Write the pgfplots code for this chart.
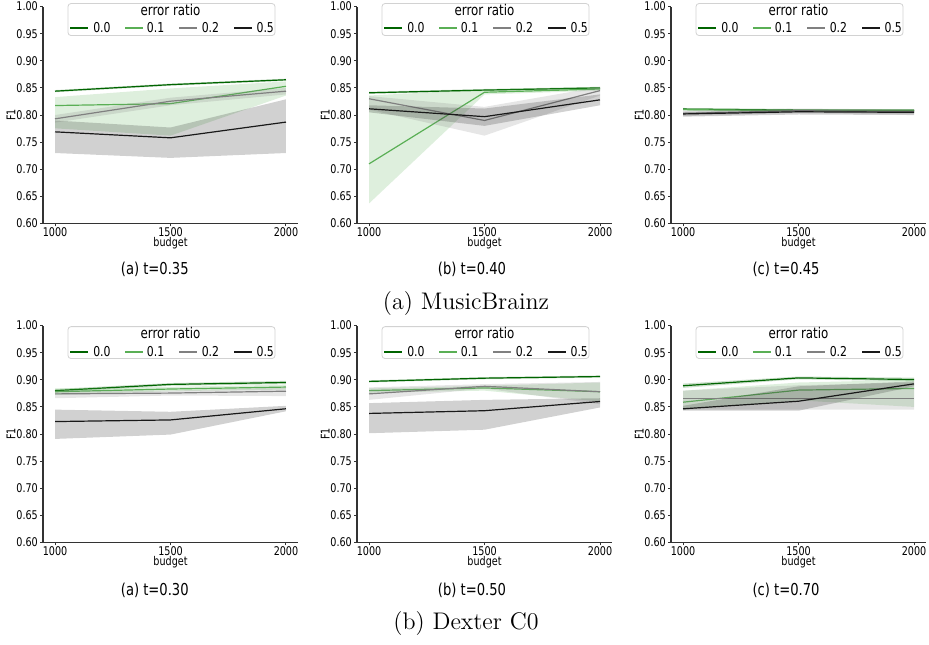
\documentclass[border=0pt]{standalone}
\usepackage{fontspec}
\usepackage{pgfplots}
\usepackage{pgfplotstable}
\pgfplotsset{compat=1.18}
\newfontfamily\dvs[FakeStretch=0.8]{DejaVu Sans}
\definecolor{c0}{RGB}{0,100,0}
\definecolor{c1}{RGB}{90,175,85}
\definecolor{c2}{RGB}{128,128,128}
\definecolor{c5}{RGB}{25,25,25}
\definecolor{spine}{RGB}{51,51,51}
\definecolor{legframe}{RGB}{210,210,210}

% mean F1 per error ratio (0.0, 0.1, 0.2, 0.5)
\pgfplotstableread{
x m0 m1 m2 m5
1000 0.844 0.8175 0.793 0.769
1500 0.856 0.821 0.8255 0.758
2000 0.865 0.853 0.844 0.787
}\tA
\pgfplotstableread{
x m0 m1 m2 m5
1000 0.841 0.710 0.830 0.8115
1500 0.846 0.842 0.790 0.797
2000 0.850 0.848 0.845 0.828
}\tB
\pgfplotstableread{
x m0 m1 m2 m5
1000 0.811 0.810 0.803 0.802
1500 0.809 0.808 0.808 0.806
2000 0.809 0.808 0.806 0.805
}\tC
\pgfplotstableread{
x m0 m1 m2 m5
1000 0.880 0.878 0.874 0.823
1500 0.8915 0.883 0.8755 0.826
2000 0.895 0.8866 0.879 0.8466
}\tD
\pgfplotstableread{
x m0 m1 m2 m5
1000 0.897 0.880 0.874 0.838
1500 0.903 0.885 0.888 0.843
2000 0.906 0.878 0.878 0.860
}\tE
\pgfplotstableread{
x m0 m1 m2 m5
1000 0.889 0.8587 0.865 0.8465
1500 0.9035 0.881 0.865 0.8605
2000 0.9005 0.884 0.865 0.8925
}\tF

% line + confidence band (upper 1000,1500,2000 then lower 2000,1500,1000)
\newcommand{\ser}[4]{%
  \addplot[#3, line width=0.6pt, forget plot] table[x=x,y=m#2]{#1};
  \addplot[fill=#3, fill opacity=0.2, draw=none, forget plot] coordinates {#4};
}
% legend frame and keys: axis left x, frame top, frame bottom, entries y (pt)
\newcommand{\legkeys}[4]{%
  \begin{scope}[xshift=#1pt]
  \draw[rounded corners=1.5pt, draw=legframe, line width=0.4pt, fill=white]
    (12.5pt,#2pt) rectangle (116pt,#3pt);
  \fill[c0] (13.45pt,#4pt-0.5pt) rectangle (22.45pt,#4pt+0.5pt);
  \fill[c1] (40.84pt,#4pt-0.5pt) rectangle (49.84pt,#4pt+0.5pt);
  \fill[c2] (68.24pt,#4pt-0.5pt) rectangle (77.24pt,#4pt+0.5pt);
  \fill[c5] (95.63pt,#4pt-0.5pt) rectangle (104.63pt,#4pt+0.5pt);
  \end{scope}
}
% legend texts: axis left x, title y, entries y (pt)
\newcommand{\legtext}[3]{%
  \begin{scope}[xshift=#1pt, every node/.style={inner sep=0pt}]
  \node[font=\dvs\fontsize{7.4}{8}\selectfont] at (63.75pt,#2pt) {error ratio};
  \node[font=\dvs\fontsize{6.8}{7.5}\selectfont, anchor=west] at (24.93pt,#3pt) {0.0};
  \node[font=\dvs\fontsize{6.8}{7.5}\selectfont, anchor=west] at (51.77pt,#3pt) {0.1};
  \node[font=\dvs\fontsize{6.8}{7.5}\selectfont, anchor=west] at (79.18pt,#3pt) {0.2};
  \node[font=\dvs\fontsize{6.8}{7.5}\selectfont, anchor=west] at (106.59pt,#3pt) {0.5};
  \end{scope}
}

\pgfplotsset{
  panel/.style={
    scale only axis, width=127.5pt, height=108.5pt,
    xmin=948, xmax=2052, ymin=0.6, ymax=1.0,
    axis lines*=left,
    axis line style={spine, line width=0.6pt},
    xtick={1000,1500,2000},
    ytick={0.6,0.65,0.7,0.75,0.8,0.85,0.9,0.95,1.0},
    tick align=outside, major tick length=1.4pt,
    tick style={spine, line width=0.5pt},
    /pgf/number format/assume math mode=true,
    x tick label style={font=\dvs\fontsize{6}{7}\selectfont, inner sep=0.4pt,
      /pgf/number format/1000 sep={}},
    y tick label style={font=\dvs\fontsize{6}{7}\selectfont, inner sep=1pt,
      /pgf/number format/.cd, fixed, fixed zerofill, precision=2},
    xlabel={budget}, ylabel={F1},
    xlabel style={font=\dvs\fontsize{6}{7}\selectfont, at={(axis description cs:0.5,-0.091)}, anchor=center, inner sep=0pt},
    ylabel style={font=\dvs\fontsize{6}{7}\selectfont, at={(axis description cs:-0.125,0.5)}, anchor=center, inner sep=0pt},
  },
}

\begin{document}
\begin{tikzpicture}
\path (0pt,0pt) rectangle (464.5pt,-322pt);

% legend frames and keys first (no data reaches this area)
\legkeys{21.5}{-1.5}{-17.5}{-13.5}
\legkeys{178.5}{-1.5}{-17.5}{-13.5}
\legkeys{335.5}{-1.5}{-17.5}{-13.5}
\legkeys{21.5}{-163.05}{-179}{-175.5}
\legkeys{178.5}{-163.05}{-179}{-175.5}
\legkeys{335.5}{-163.05}{-179}{-175.5}

% (a) MusicBrainz, t=0.35
\begin{axis}[panel, at={(21.5pt,-111.5pt)}, anchor=south west]
\ser{\tA}{0}{c0}{(1000,0.846) (1500,0.858) (2000,0.867) (2000,0.863) (1500,0.854) (1000,0.842)}
\ser{\tA}{1}{c1}{(1000,0.833) (1500,0.849) (2000,0.862) (2000,0.836) (1500,0.762) (1000,0.7755)}
\ser{\tA}{2}{c2}{(1000,0.800) (1500,0.832) (2000,0.850) (2000,0.838) (1500,0.818) (1000,0.786)}
\ser{\tA}{5}{c5}{(1000,0.790) (1500,0.777) (2000,0.829) (2000,0.730) (1500,0.721) (1000,0.730)}
\end{axis}

% (b) MusicBrainz, t=0.40
\begin{axis}[panel, at={(178.5pt,-111.5pt)}, anchor=south west]
\ser{\tB}{0}{c0}{(1000,0.843) (1500,0.848) (2000,0.852) (2000,0.848) (1500,0.844) (1000,0.839)}
\ser{\tB}{1}{c1}{(1000,0.836) (1500,0.847) (2000,0.852) (2000,0.845) (1500,0.838) (1000,0.637)}
\ser{\tB}{2}{c2}{(1000,0.835) (1500,0.815) (2000,0.852) (2000,0.836) (1500,0.762) (1000,0.810)}
\ser{\tB}{5}{c5}{(1000,0.818) (1500,0.812) (2000,0.838) (2000,0.818) (1500,0.780) (1000,0.805)}
\end{axis}

% (c) MusicBrainz, t=0.45
\begin{axis}[panel, at={(335.5pt,-111.5pt)}, anchor=south west]
\ser{\tC}{0}{c0}{(1000,0.813) (1500,0.811) (2000,0.811) (2000,0.807) (1500,0.807) (1000,0.809)}
\ser{\tC}{1}{c1}{(1000,0.812) (1500,0.811) (2000,0.810) (2000,0.806) (1500,0.806) (1000,0.808)}
\ser{\tC}{2}{c2}{(1000,0.808) (1500,0.812) (2000,0.810) (2000,0.801) (1500,0.804) (1000,0.798)}
\ser{\tC}{5}{c5}{(1000,0.806) (1500,0.810) (2000,0.809) (2000,0.800) (1500,0.801) (1000,0.797)}
\end{axis}

% (a) Dexter C0, t=0.30
\begin{axis}[panel, at={(21.5pt,-271pt)}, anchor=south west]
\ser{\tD}{0}{c0}{(1000,0.883) (1500,0.894) (2000,0.898) (2000,0.892) (1500,0.889) (1000,0.877)}
\ser{\tD}{1}{c1}{(1000,0.884) (1500,0.887) (2000,0.891) (2000,0.882) (1500,0.879) (1000,0.872)}
\ser{\tD}{2}{c2}{(1000,0.880) (1500,0.880) (2000,0.886) (2000,0.870) (1500,0.871) (1000,0.866)}
\ser{\tD}{5}{c5}{(1000,0.845) (1500,0.841) (2000,0.852) (2000,0.842) (1500,0.799) (1000,0.791)}
\end{axis}

% (b) Dexter C0, t=0.50
\begin{axis}[panel, at={(178.5pt,-271pt)}, anchor=south west]
\ser{\tE}{0}{c0}{(1000,0.899) (1500,0.905) (2000,0.908) (2000,0.904) (1500,0.901) (1000,0.895)}
\ser{\tE}{1}{c1}{(1000,0.884) (1500,0.889) (2000,0.895) (2000,0.860) (1500,0.880) (1000,0.876)}
\ser{\tE}{2}{c2}{(1000,0.886) (1500,0.892) (2000,0.896) (2000,0.855) (1500,0.884) (1000,0.863)}
\ser{\tE}{5}{c5}{(1000,0.857) (1500,0.863) (2000,0.866) (2000,0.849) (1500,0.808) (1000,0.8015)}
\end{axis}

% (c) Dexter C0, t=0.70
\begin{axis}[panel, at={(335.5pt,-271pt)}, anchor=south west]
\ser{\tF}{0}{c0}{(1000,0.893) (1500,0.906) (2000,0.904) (2000,0.897) (1500,0.901) (1000,0.885)}
\ser{\tF}{1}{c1}{(1000,0.880) (1500,0.895) (2000,0.900) (2000,0.850) (1500,0.862) (1000,0.845)}
\ser{\tF}{2}{c2}{(1000,0.880) (1500,0.890) (2000,0.895) (2000,0.845) (1500,0.845) (1000,0.845)}
\ser{\tF}{5}{c5}{(1000,0.852) (1500,0.888) (2000,0.897) (2000,0.888) (1500,0.843) (1000,0.843)}
\end{axis}

% legend texts
\legtext{21.5}{-4.5}{-13.5}
\legtext{178.5}{-4.5}{-13.5}
\legtext{335.5}{-4.5}{-13.5}
\legtext{21.5}{-166}{-175.5}
\legtext{178.5}{-166}{-175.5}
\legtext{335.5}{-166}{-175.5}

\begin{scope}[every node/.style={inner sep=0pt}]
\node[font=\dvs\fontsize{8.2}{9}\selectfont] at (77.4pt,-134.5pt) {(a) t=0.35};
\node[font=\dvs\fontsize{8.2}{9}\selectfont] at (236pt,-134.5pt) {(b) t=0.40};
\node[font=\dvs\fontsize{8.2}{9}\selectfont] at (393pt,-134.5pt) {(c) t=0.45};
\node[font=\fontsize{12}{14}\selectfont] at (233pt,-151.5pt) {(a) MusicBrainz};
\node[font=\dvs\fontsize{8.2}{9}\selectfont] at (77.4pt,-295pt) {(a) t=0.30};
\node[font=\dvs\fontsize{8.2}{9}\selectfont] at (236pt,-295pt) {(b) t=0.50};
\node[font=\dvs\fontsize{8.2}{9}\selectfont] at (393pt,-295pt) {(c) t=0.70};
\node[font=\fontsize{12}{14}\selectfont] at (233pt,-311.5pt) {(b) Dexter C0};
\end{scope}
\end{tikzpicture}
\end{document}
